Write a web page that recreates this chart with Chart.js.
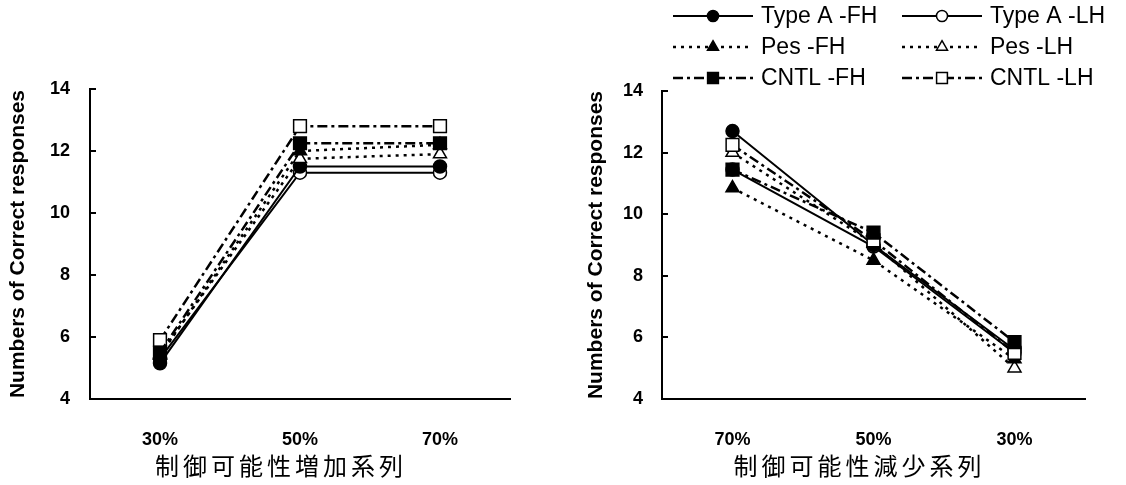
<!DOCTYPE html>
<html>
<head>
<meta charset="utf-8">
<title>Correct responses</title>
<script src="https://cdn.jsdelivr.net/npm/chart.js@4.4.1/dist/chart.umd.min.js"></script>
<style>
    html, body { margin: 0; padding: 0; background: #fff; }
    #wrap { position: relative; width: 1126px; height: 485px; }
    canvas { position: absolute; top: 0; }
    #chart-increase { left: 0; }
    #chart-decrease { left: 563px; }
</style>
</head>
<body>
<div id="wrap">
    <canvas id="chart-increase" width="563" height="485"></canvas>
    <canvas id="chart-decrease" width="563" height="485"></canvas>
</div>
<script>
    "use strict";

    // Series names and categories
    var seriesNames = ["Type A -FH", "Type A -LH", "Pes -FH", "Pes -LH", "CNTL -FH", "CNTL -LH"];
    var increaseLabels = ["30%", "50%", "70%"];
    var decreaseLabels = ["70%", "50%", "30%"];
    var yTickValues = [4, 6, 8, 10, 12, 14];

    // 制御可能性増加系列 (30% -> 70%)
    var incTypeAFH = [5.15, 11.5, 11.5];
    var incTypeALH = [5.3, 11.3, 11.3];
    var incPesFH = [5.4, 12.0, 12.2];
    var incPesLH = [5.45, 11.75, 11.9];
    var incCntlFH = [5.5, 12.25, 12.25];
    var incCntlLH = [5.9, 12.8, 12.8];

    // 制御可能性減少系列 (70% -> 30%)
    var decTypeAFH = [12.7, 9.0, 5.6];
    var decTypeALH = [11.45, 8.95, 5.5];
    var decPesFH = [10.85, 8.5, 5.3];
    var decPesLH = [12.0, 9.05, 5.0];
    var decCntlFH = [11.45, 9.4, 5.85];
    var decCntlLH = [12.25, 9.15, 5.5];

    var FONT = "'Liberation Sans', Arial, sans-serif";
    Chart.defaults.font.family = FONT;
    Chart.defaults.color = "#000";

    // line / marker look of each series (order: lower is drawn on top)
    var seriesStyle = [
        { dash: [], width: 2, point: "circle", fill: "#000", radius: 6.5, order: 2 },
        { dash: [], width: 2, point: "circle", fill: "#fff", radius: 6.5, order: 2 },
        { dash: [3, 5], width: 2.5, point: "triangle", fill: "#000", radius: 7.5, order: 1 },
        { dash: [3, 5], width: 2.5, point: "triangle", fill: "#fff", radius: 7.5, order: 1 },
        { dash: [10, 4, 3, 4], width: 2.5, point: "rect", fill: "#000", radius: 9, order: 0 },
        { dash: [10, 4, 3, 4], width: 2.5, point: "rect", fill: "#fff", radius: 9, order: 0 }
    ];

    function makeDatasets(valueLists) {
        return valueLists.map(function (values, i) {
            var s = seriesStyle[i];
            return {
                label: seriesNames[i],
                data: values,
                order: s.order,
                borderColor: "#000",
                borderWidth: s.width,
                borderDash: s.dash,
                pointStyle: s.point,
                pointRadius: s.radius,
                pointHoverRadius: s.radius,
                pointBackgroundColor: s.fill,
                pointBorderColor: "#000",
                pointBorderWidth: 1.5,
                tension: 0,
                fill: false
            };
        });
    }

    // axis caption below the category labels, drawn with wide letter spacing
    var captionPlugin = {
        id: "seriesCaption",
        afterDraw: function (chart, args, opts) {
            var ctx = chart.ctx, area = chart.chartArea;
            ctx.save();
            ctx.font = "24px 'Noto Sans CJK JP', sans-serif";
            if ("letterSpacing" in ctx) ctx.letterSpacing = "4px";
            ctx.textAlign = "center";
            ctx.textBaseline = "middle";
            ctx.fillStyle = "#000";
            ctx.fillText(opts.text, (area.left + area.right) / 2 + opts.shift, 466);
            ctx.restore();
        }
    };

    // two-column legend with line + marker samples
    var pairLegendPlugin = {
        id: "pairLegend",
        afterDraw: function (chart, args, opts) {
            if (!opts.show) return;
            var ctx = chart.ctx;
            var colX = [110, 339];
            var rowY = [16, 47, 78];
            chart.data.datasets.forEach(function (ds, i) {
                var x0 = colX[i % 2], y = rowY[Math.floor(i / 2)];
                ctx.save();
                ctx.strokeStyle = "#000";
                ctx.lineWidth = ds.borderWidth;
                ctx.setLineDash(ds.borderDash);
                ctx.beginPath();
                ctx.moveTo(x0, y);
                ctx.lineTo(x0 + 80, y);
                ctx.stroke();
                ctx.setLineDash([]);
                ctx.fillStyle = ds.pointBackgroundColor;
                ctx.lineWidth = ds.pointBorderWidth;
                Chart.helpers.drawPoint(ctx, {
                    pointStyle: ds.pointStyle,
                    radius: ds.pointRadius * 0.85,
                    borderWidth: ds.pointBorderWidth,
                    rotation: 0
                }, x0 + 40, y);
                ctx.fillStyle = "#000";
                ctx.font = "23px " + FONT;
                ctx.textAlign = "left";
                ctx.textBaseline = "middle";
                ctx.fillText(ds.label, x0 + 88, y + 1);
                ctx.restore();
            });
        }
    };

    function makeChart(canvasId, labels, valueLists, cfg) {
        var ctx = document.getElementById(canvasId).getContext("2d");
        return new Chart(ctx, {
            type: "line",
            data: {
                labels: labels,
                datasets: makeDatasets(valueLists)
            },
            options: {
                responsive: false,
                animation: false,
                devicePixelRatio: 1,
                layout: {
                    padding: { top: cfg.top, right: cfg.right, bottom: 0, left: 0 }
                },
                plugins: {
                    legend: { display: false },
                    tooltip: { enabled: false },
                    seriesCaption: { text: cfg.caption, shift: cfg.captionShift },
                    pairLegend: { show: cfg.legend }
                },
                scales: {
                    x: {
                        offset: true,
                        grid: { display: false },
                        border: { display: true, color: "#000", width: 2 },
                        ticks: {
                            padding: 22,
                            font: { size: 18, weight: "bold" }
                        },
                        afterFit: function (scale) { scale.height = 86; }
                    },
                    y: {
                        min: yTickValues[0],
                        max: yTickValues[yTickValues.length - 1],
                        grid: {
                            drawOnChartArea: false,
                            drawTicks: true,
                            tickLength: -6,
                            color: "#000",
                            lineWidth: 2
                        },
                        border: { display: true, color: "#000", width: 2 },
                        ticks: {
                            stepSize: 2,
                            padding: cfg.tickPad,
                            font: { size: 18, weight: "bold" }
                        },
                        title: {
                            display: true,
                            text: "Numbers of Correct responses",
                            font: { size: 21, weight: "bold" },
                            padding: { top: cfg.titlePad, bottom: 0 }
                        },
                        afterFit: function (scale) { scale.width = cfg.axisWidth; }
                    }
                }
            },
            plugins: [captionPlugin, pairLegendPlugin]
        });
    }

    makeChart("chart-increase", increaseLabels,
        [incTypeAFH, incTypeALH, incPesFH, incPesLH, incCntlFH, incCntlLH],
        { top: 89, right: 53, axisWidth: 90, tickPad: 26, titlePad: 6,
          caption: "制御可能性増加系列", captionShift: -19, legend: false });

    makeChart("chart-decrease", decreaseLabels,
        [decTypeAFH, decTypeALH, decPesFH, decPesLH, decCntlFH, decCntlLH],
        { top: 91, right: 41, axisWidth: 99, tickPad: 25, titlePad: 21,
          caption: "制御可能性減少系列", captionShift: -14, legend: true });
</script>
</body>
</html>
